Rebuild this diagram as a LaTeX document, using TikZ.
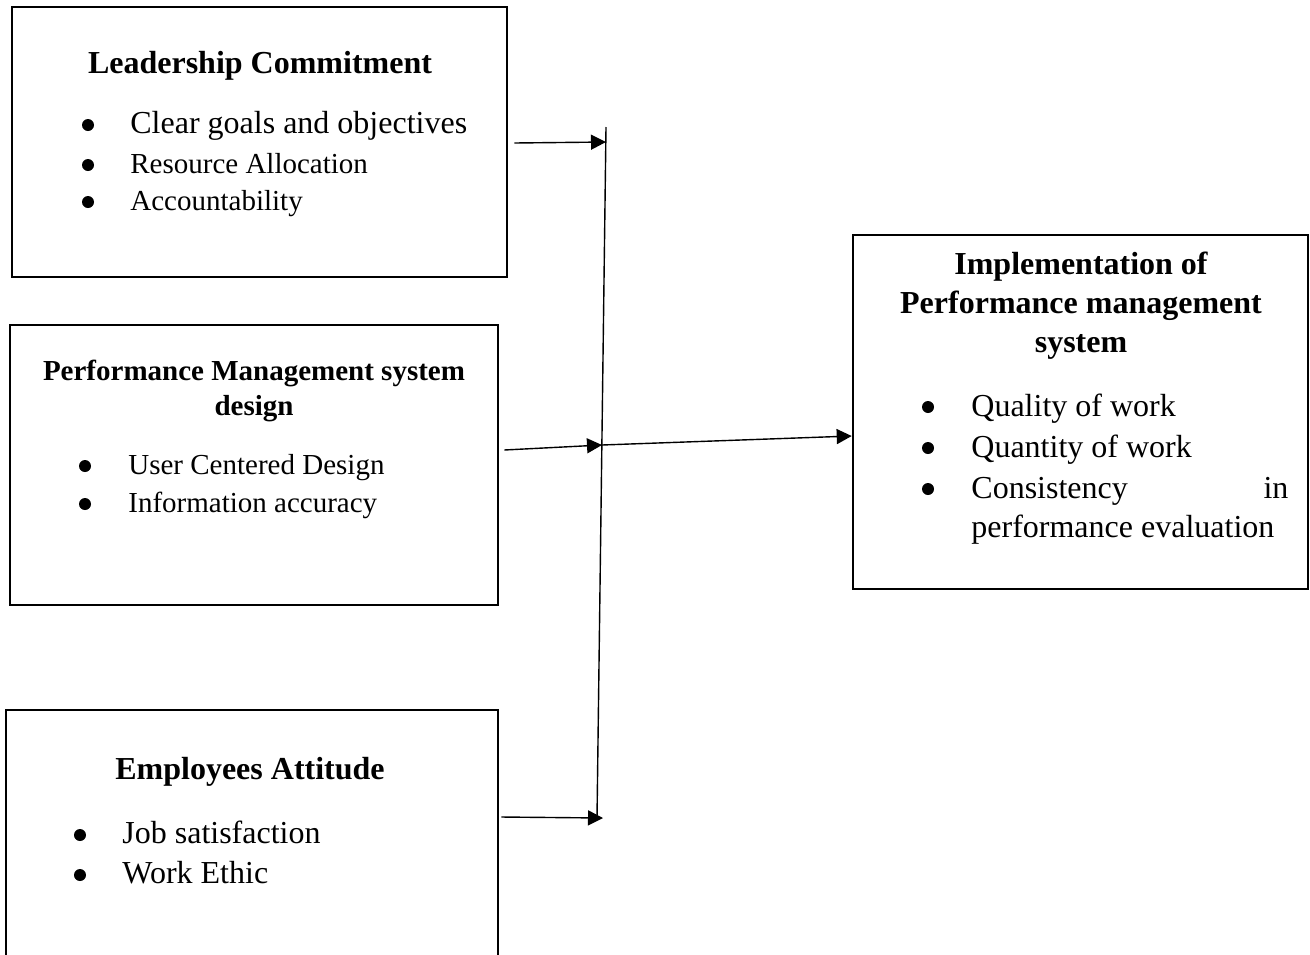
\documentclass[tikz,border=0pt]{standalone}
\usepackage{fontspec}
\setmainfont{Liberation Serif}
\usetikzlibrary{arrows.meta,positioning,calc}

\tikzset{
  factor/.style={draw,line width=1.3pt,inner sep=0pt},
  heading/.style={font=\fontsize{16}{19.5}\selectfont\bfseries,align=center,anchor=base,inner sep=0pt},
  smallheading/.style={heading,font=\fontsize{14.5}{17.5}\selectfont\bfseries},
  entry/.style={font=\fontsize{16}{19.5}\selectfont,anchor=base west,inner sep=0pt},
  dot/.style={circle,fill,inner sep=0pt,minimum size=6pt},
  link/.style={line width=0.7pt,-{Triangle[length=7.5pt,width=7.5pt]}},
}

\begin{document}
\begin{tikzpicture}[x=0.5pt,y=-0.5pt]
  \useasboundingbox (0,0) rectangle (1310,954);

  % boxes
  \node[factor,minimum width=247.5pt,minimum height=135pt] (lead) at (259.5,142) {};
  \node[factor,minimum width=244pt,minimum height=140pt] (design) at (254,465) {};
  \node[factor,minimum width=246pt,minimum height=140pt] (attit) at (252,850) {};
  \node[factor,minimum width=227.5pt,minimum height=177pt] (impl) at (1080.5,412) {};

  % titles (base = last line)
  \node[heading] (lead-title) at (260,73) {Leadership Commitment};
  \node[smallheading] (design-title) at (254,415) {Performance Management system\\design};
  \node[heading] (attit-title) at (250,779) {Employees Attitude};
  \node[heading] (impl-title) at (1081,352) {Implementation of\\Performance management\\system};

  % bullet lists
  \foreach \y/\sz/\txt [count=\i] in {133/16/Clear goals and objectives,
      173/14.5/Resource Allocation, 210/14.5/Accountability}{
    \node[dot] (lead-dot\i) at (88,\y-8) {};
    \node[entry,font=\fontsize{\sz}{18}\selectfont] (lead-item\i) at (130,\y) {\txt};
  }
  \foreach \y/\txt [count=\i] in {474/User Centered Design, 512/Information accuracy}{
    \node[dot] (design-dot\i) at (85,\y-8) {};
    \node[entry,font=\fontsize{14.5}{17.5}\selectfont] (design-item\i) at (128,\y) {\txt};
  }
  \foreach \y/\txt [count=\i] in {843/Job satisfaction, 883/Work Ethic}{
    \node[dot] (attit-dot\i) at (80,\y-8) {};
    \node[entry] (attit-item\i) at (122,\y) {\txt};
  }
  \foreach \y/\txt [count=\i] in {416/Quality of work, 457/Quantity of work,
      498/{\hbox to 158.5pt{Consistency\hfill in}}}{
    \node[dot] (impl-dot\i) at (928,\y-9) {};
    \node[entry] (impl-item\i) at (971,\y) {\txt};
  }
  \node[entry] (impl-item3b) at (971,537) {performance evaluation};

  % connectors
  \coordinate (spine-top) at (606,127);
  \coordinate (spine-bot) at (597,818);
  \coordinate (hub) at (602,445);
  \draw[line width=0.7pt] (spine-top) -- (spine-bot);
  \draw[link] ($(lead.east)+(6,1)$) -- (lead.east -| spine-top);
  \draw[link] ($(design.east |- hub)+(5,5)$) -- (hub);
  \draw[link] (hub) -- ($(impl.west)+(0,24)$);
  \draw[link] ($(attit.east |- spine-bot)+(2,-1)$) -- ($(spine-bot)+(6,0)$);
\end{tikzpicture}
\end{document}
